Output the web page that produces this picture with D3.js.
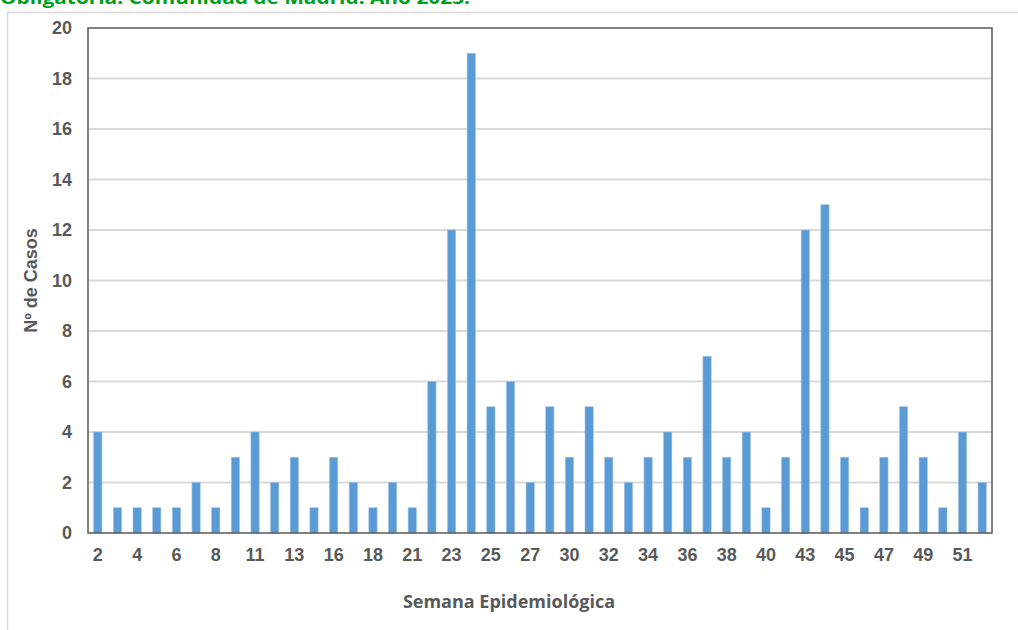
<!DOCTYPE html>
<html>
<head>
<meta charset="utf-8">
<script src="https://cdn.jsdelivr.net/npm/d3@7"></script>
<style>
body { margin: 0; background: #fff; }
svg { display: block; }
</style>
</head>
<body>
<div id="viz"></div>
<script>
var width = 1018;
var height = 630;

// semanas epidemiológicas con casos (las que faltan no aparecen en el eje)
var semanas = [2, 3, 4, 5, 6, 7, 8, 9, 11, 12, 13, 14, 16, 17, 18, 19, 21, 22, 23, 24,
	25, 26, 27, 28, 30, 31, 32, 33, 34, 35, 36, 37, 38, 39, 40, 41, 43, 44, 45, 46,
	47, 48, 49, 50, 51, 52];
var casos = [4, 1, 1, 1, 1, 2, 1, 3, 4, 2, 3, 1, 3, 2, 1, 2, 1, 6, 12, 19,
	5, 6, 2, 5, 3, 5, 3, 2, 3, 4, 3, 7, 3, 4, 1, 3, 12, 13, 3, 1,
	3, 5, 3, 1, 4, 2];
var yTicks = [0, 2, 4, 6, 8, 10, 12, 14, 16, 18, 20];
var titulo = "Obligatoria. Comunidad de Madrid. Año 2023.";

var margin = {top: 28, right: 26, bottom: 97, left: 88};
var grey = "#595959";

var svg = d3.select("#viz").append("svg")
	.attr("width", width)
	.attr("height", height);

// marco exterior del gráfico
svg.append("rect")
	.attr("x", 7.5)
	.attr("y", 12.5)
	.attr("width", width)
	.attr("height", height)
	.style("fill", "#fff")
	.style("stroke", "#d9d9d9")
	.style("stroke-width", 1.5);

// el título queda cortado por arriba, como en la imagen original
svg.append("text")
	.attr("x", 0)
	.attr("y", 4)
	.attr("textLength", 470)
	.attr("lengthAdjust", "spacingAndGlyphs")
	.style("font-family", "'Open Sans', sans-serif")
	.style("font-weight", "bold")
	.style("font-size", "17px")
	.style("fill", "#00a01e")
	.text(titulo);

var x = d3.scaleBand()
	.domain(semanas)
	.range([margin.left, width - margin.right])
	.paddingInner(0.58)
	.paddingOuter(0.29);

var y = d3.scaleLinear()
	.domain([0, 20])
	.range([height - margin.bottom, margin.top]);

// rejilla
svg.append("g")
	.selectAll("line")
	.data(yTicks.slice(1, -1))
	.enter().append("line")
		.attr("x1", margin.left)
		.attr("x2", width - margin.right)
		.attr("y1", function(d) { return y(d); })
		.attr("y2", function(d) { return y(d); })
		.style("stroke", "#d9d9d9")
		.style("stroke-width", 2);

svg.append("g")
	.selectAll("rect")
	.data(casos)
	.enter().append("rect")
		.attr("x", function(d, i) { return x(semanas[i]); })
		.attr("y", function(d) { return y(d); })
		.attr("width", x.bandwidth())
		.attr("height", function(d) { return y(0) - y(d); })
		.style("fill", "#5b9bd5")
		.style("stroke", "#9dc3e6")
		.style("stroke-width", 0.6);

// caja del área de trazado
svg.append("rect")
	.attr("x", margin.left)
	.attr("y", margin.top)
	.attr("width", width - margin.left - margin.right)
	.attr("height", height - margin.top - margin.bottom)
	.style("fill", "none")
	.style("stroke", grey)
	.style("stroke-width", 1.5);

var yAxis = svg.append("g")
	.attr("transform", "translate(" + margin.left + ",0)")
	.call(d3.axisLeft(y).tickValues(yTicks).tickSize(0).tickPadding(16));

var xAxis = svg.append("g")
	.attr("transform", "translate(0," + (height - margin.bottom) + ")")
	.call(d3.axisBottom(x)
		.tickValues(semanas.filter(function(d, i) { return i % 2 == 0; }))
		.tickSize(0).tickPadding(15));

[yAxis, xAxis].forEach(function(a) {
	a.select(".domain").remove();
	a.selectAll("text")
		.style("font-family", "'Liberation Sans', Arial, sans-serif")
		.style("font-weight", "bold")
		.style("font-size", "18px")
		.style("fill", grey);
});

svg.append("text")
	.attr("transform", "translate(37," + ((margin.top + height - margin.bottom) / 2) + ") rotate(-90)")
	.attr("text-anchor", "middle")
	.style("font-family", "'Liberation Sans', Arial, sans-serif")
	.style("font-weight", "bold")
	.style("font-size", "18px")
	.style("fill", grey)
	.text("Nº de Casos");

svg.append("text")
	.attr("x", 509)
	.attr("y", 608)
	.attr("text-anchor", "middle")
	.style("font-family", "'Open Sans', sans-serif")
	.style("font-weight", "bold")
	.style("font-size", "18px")
	.style("fill", grey)
	.text("Semana Epidemiológica");
</script>
</body>
</html>
